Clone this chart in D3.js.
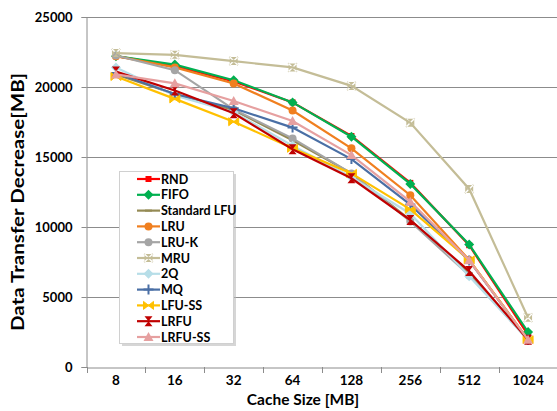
<!DOCTYPE html>
<html><head><meta charset="utf-8">
<script src="https://cdn.jsdelivr.net/npm/d3@7"></script>
<style>
html,body{margin:0;padding:0;background:#fff;}
text{font-family:Lato,"Liberation Sans",sans-serif;font-weight:bold;}
</style></head>
<body><svg id="c" width="557" height="411"></svg>
<script>
const categories = ["8","16","32","64","128","256","512","1024"];
const yTicks = [0,5000,10000,15000,20000,25000];
const seriesNames = ["RND","FIFO","Standard LFU","LRU","LRU-K","MRU","2Q","MQ","LFU-SS","LRFU","LRFU-SS"];
const RND      = [22200,21500,20400,18900,16500,13150,8700,2300];
const FIFO     = [22200,21600,20480,18900,16450,13080,8750,2500];
const StdLFU   = [20900,19500,18350,16200,13830,10500,6700,1950];
const LRU      = [22200,21400,20250,18320,15620,12270,7650,1950];
const LRUK     = [22250,21200,18400,16330,13830,10400,6550,1950];
const MRU      = [22420,22300,21850,21400,20080,17440,12720,3520];
const Q2       = [21400,19400,18200,15800,13550,10950,6480,1950];
const MQ       = [21000,19500,18480,17100,14850,11600,7600,1950];
const LFUSS    = [20750,19150,17520,15620,13830,11260,7650,1950];
const LRFU     = [21100,19750,18120,15550,13480,10500,6850,1950];
const LRFUSS   = [20900,20260,19000,17570,15140,11810,7620,1950];
const seriesValues = [RND,FIFO,StdLFU,LRU,LRUK,MRU,Q2,MQ,LFUSS,LRFU,LRFUSS];
const colors = ["#FF0000","#00B050","#948A54","#F07F1F","#A5A5A5","#C4BD97","#B7DEE8","#4A6FA5","#FFC000","#C00000","#E6A0A0"];
const markers = ["square","diamond","dash","circle","circle","star","diamond","plus","bowtie","hourglass","triangle"];

const svg = d3.select("#c");
const L=86.5, R=557.5, T=17, B=367;
const x = d3.scaleBand().domain(categories).range([L,R]);
const y = d3.scaleLinear().domain([0,25000]).range([B,T]);

// gridlines
svg.append("g").selectAll("line").data(yTicks.filter(d=>d>0)).join("line")
  .attr("x1",L).attr("x2",R).attr("y1",d=>Math.round(y(d))+0.5).attr("y2",d=>Math.round(y(d))+0.5)
  .attr("stroke","#8c8c8c").attr("stroke-width",1);

// y axis
const ya = svg.append("g").attr("transform",`translate(${L},0)`)
  .call(d3.axisLeft(y).tickValues(yTicks).tickSize(5).tickPadding(9).tickFormat(d3.format("d")));
ya.select(".domain").attr("stroke","#8c8c8c");
ya.selectAll(".tick line").attr("stroke","#8c8c8c");
ya.selectAll("text").attr("font-size","13px").attr("fill","#000").attr("font-family","Lato,sans-serif").attr("font-weight","bold");

// x axis
const xa = svg.append("g").attr("transform",`translate(0,${B+0.5})`)
  .call(d3.axisBottom(x).tickSize(0).tickPadding(8));
xa.select(".domain").attr("stroke","#8c8c8c");
xa.selectAll("text").attr("font-size","13.5px").attr("fill","#000").attr("font-family","Lato,sans-serif").attr("font-weight","bold");
svg.append("g").selectAll("line").data(categories.concat(["end"])).join("line")
  .attr("x1",(d,i)=> Math.round(L + i*x.bandwidth())+0.5).attr("x2",(d,i)=>Math.round(L + i*x.bandwidth())+0.5)
  .attr("y1",B).attr("y2",B+6).attr("stroke","#8c8c8c");

// titles
svg.append("text").attr("x",303).attr("y",405).attr("text-anchor","middle").attr("font-size","15.5px").text("Cache Size [MB]");
svg.append("text").attr("transform","translate(24,202) rotate(-90)").attr("text-anchor","middle").attr("font-size","16.5px")
  .attr("textLength",258).attr("lengthAdjust","spacingAndGlyphs").text("Data Transfer Decrease[MB]");

function drawMarker(g, type, color){
  switch(type){
    case "square": g.append("rect").attr("x",-3).attr("y",-3).attr("width",6).attr("height",6).attr("fill",color); break;
    case "diamond": g.append("path").attr("d","M0,-5L5,0L0,5L-5,0Z").attr("fill",color); break;
    case "dash": g.append("rect").attr("x",-3.5).attr("y",-1).attr("width",7).attr("height",2).attr("fill",color); break;
    case "circle": g.append("circle").attr("r",4).attr("fill",color); break;
    case "star": g.append("path").attr("d","M-5,-4H5L1,0L5,4H-5L-1,0Z M-4,-5V5L0,1L4,5V-5L0,-1Z").attr("fill",color); break;
    case "plus": g.append("path").attr("d","M-5,0H5M0,-5V5").attr("stroke",color).attr("stroke-width",2); break;
    case "bowtie": g.append("path").attr("d","M-5,-4L0,0L-5,4Z M5,-4L0,0L5,4Z").attr("fill",color).attr("stroke",color); break;
    case "hourglass": g.append("path").attr("d","M-4,-5H4L0,0Z M-4,5H4L0,0Z").attr("fill",color); break;
    case "triangle": g.append("path").attr("d","M0,-5L5,4H-5Z").attr("fill",color); break;
  }
}

const line = d3.line().x((d,i)=>x(categories[i])+x.bandwidth()/2).y(d=>y(d));
seriesValues.forEach((vals,si)=>{
  const g = svg.append("g");
  g.append("path").attr("d",line(vals)).attr("fill","none").attr("stroke",colors[si]).attr("stroke-width",2.2);
  vals.forEach((v,i)=>{
    const m = g.append("g").attr("transform",`translate(${x(categories[i])+x.bandwidth()/2},${y(v)})`);
    drawMarker(m, markers[si], colors[si]);
  });
});

// legend
const lg = svg.append("g");
lg.append("rect").attr("x",122).attr("y",174).attr("width",114).attr("height",172).attr("fill","#bbb").attr("opacity",0.6);
lg.append("rect").attr("x",119.5).attr("y",171.5).attr("width",114).attr("height",172).attr("fill","#fff").attr("stroke","#d0d0d0");
seriesNames.forEach((n,i)=>{
  const yy = 179 + i*15.8;
  lg.append("line").attr("x1",137).attr("x2",160).attr("y1",yy).attr("y2",yy).attr("stroke",colors[i]).attr("stroke-width",2.2);
  drawMarker(lg.append("g").attr("transform",`translate(148.5,${yy})`), markers[i], colors[i]);
  lg.append("text").attr("x",161).attr("y",yy+4.5).attr("font-size","12.5px").text(n);
});
</script></body></html>
